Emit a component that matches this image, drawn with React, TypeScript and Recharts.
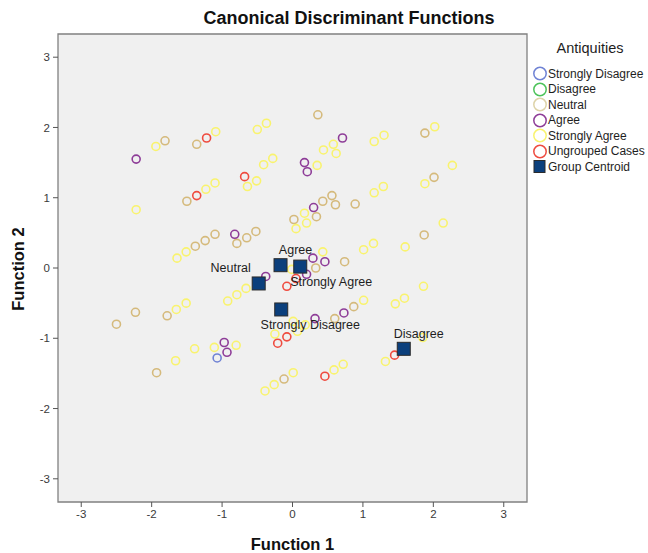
import { ScatterChart, Scatter, XAxis, YAxis, ReferenceArea, Legend } from 'recharts';

// group members, [function 1, function 2]
const stronglyDisagree = [{ x: -1.07, y: -1.28 }];
const disagree: { x: number; y: number }[] = [];
const neutral = [
  { x: -1.81, y: 1.81 }, { x: -1.36, y: 1.76 }, { x: -1.5, y: 0.95 }, { x: -1.1, y: 0.48 },
  { x: -1.24, y: 0.39 }, { x: -1.38, y: 0.31 }, { x: -0.79, y: 0.35 }, { x: -0.65, y: 0.43 },
  { x: -0.52, y: 0.52 }, { x: 0.36, y: 2.18 }, { x: 1.88, y: 1.92 }, { x: 2.01, y: 1.29 },
  { x: 0.56, y: 1.03 }, { x: 0.43, y: 0.95 }, { x: 0.61, y: 0.9 }, { x: 0.89, y: 0.91 },
  { x: 0.34, y: 0.73 }, { x: 0.02, y: 0.69 }, { x: 1.87, y: 0.47 }, { x: 0.74, y: 0.09 },
  { x: 0.33, y: 0.0 }, { x: 0.6, y: -0.72 }, { x: 0.87, y: -0.55 }, { x: -1.78, y: -0.68 },
  { x: -2.23, y: -0.63 }, { x: -2.5, y: -0.8 }, { x: -1.93, y: -1.49 }, { x: -0.12, y: -1.58 },
];
const agree = [
  { x: -2.22, y: 1.55 }, { x: -0.82, y: 0.48 }, { x: 0.71, y: 1.85 }, { x: 0.17, y: 1.5 },
  { x: 0.21, y: 1.37 }, { x: 0.3, y: 0.86 }, { x: 0.29, y: 0.14 }, { x: 0.46, y: 0.09 },
  { x: 0.2, y: -0.09 }, { x: -0.38, y: -0.12 }, { x: 0.73, y: -0.64 }, { x: 0.32, y: -0.72 },
  { x: -0.97, y: -1.06 }, { x: -0.93, y: -1.2 },
];
const stronglyAgree = [
  { x: -1.94, y: 1.73 }, { x: -1.09, y: 1.94 }, { x: -0.5, y: 1.97 }, { x: -0.37, y: 2.06 },
  { x: -0.41, y: 1.47 }, { x: -0.28, y: 1.56 }, { x: -0.64, y: 1.16 }, { x: -0.51, y: 1.24 },
  { x: -1.23, y: 1.12 }, { x: -1.1, y: 1.21 }, { x: -2.22, y: 0.83 }, { x: 0.05, y: 0.56 },
  { x: -1.51, y: 0.23 }, { x: -1.64, y: 0.14 }, { x: 0.58, y: 1.76 }, { x: 0.44, y: 1.68 },
  { x: 0.62, y: 1.63 }, { x: 0.35, y: 1.46 }, { x: 1.16, y: 1.8 }, { x: 1.3, y: 1.89 },
  { x: 2.02, y: 2.01 }, { x: 2.27, y: 1.46 }, { x: 1.88, y: 1.2 }, { x: 1.29, y: 1.16 },
  { x: 1.16, y: 1.07 }, { x: 0.17, y: 0.78 }, { x: 0.2, y: 0.64 }, { x: 2.14, y: 0.64 },
  { x: 1.15, y: 0.35 }, { x: 1.01, y: 0.26 }, { x: 1.6, y: 0.3 }, { x: 0.43, y: 0.23 },
  { x: -0.01, y: -0.02 }, { x: -0.66, y: -0.29 }, { x: -0.79, y: -0.38 }, { x: -0.92, y: -0.47 },
  { x: 1.01, y: -0.46 }, { x: 0.01, y: -0.76 }, { x: 0.18, y: -0.81 }, { x: 0.07, y: -0.9 },
  { x: -0.25, y: -0.94 }, { x: -0.8, y: -1.1 }, { x: -1.11, y: -1.13 }, { x: -1.51, y: -0.5 },
  { x: -1.65, y: -0.59 }, { x: -1.39, y: -1.15 }, { x: -1.66, y: -1.32 }, { x: -0.39, y: -1.75 },
  { x: -0.26, y: -1.66 }, { x: 0.01, y: -1.49 }, { x: 1.86, y: -0.26 }, { x: 1.59, y: -0.43 },
  { x: 1.46, y: -0.51 }, { x: 1.85, y: -0.99 }, { x: 1.32, y: -1.33 }, { x: 0.72, y: -1.37 },
  { x: 0.59, y: -1.45 },
];
const ungrouped = [
  { x: -1.22, y: 1.85 }, { x: -0.68, y: 1.3 }, { x: -1.36, y: 1.03 }, { x: 0.05, y: -0.15 },
  { x: -0.08, y: -0.26 }, { x: -0.08, y: -0.98 }, { x: -0.21, y: -1.07 }, { x: 1.45, y: -1.24 },
  { x: 0.46, y: -1.54 },
];
const centroids = [
  { name: 'Strongly Disagree', x: -0.16, y: -0.59 },
  { name: 'Disagree', x: 1.58, y: -1.15 },
  { name: 'Neutral', x: -0.48, y: -0.22 },
  { name: 'Agree', x: -0.17, y: 0.04 },
  { name: 'Strongly Agree', x: 0.11, y: 0.02 },
];
const ticks = [-3, -2, -1, 0, 1, 2, 3];

const COLORS = {
  sd: '#6f82d4',
  d: '#4cc35a',
  n: '#d5ba7c',
  a: '#8e3d98',
  sa: '#f9f36e',
  u: '#ef4b3f',
  c: '#0b3f7c',
};

// where each centroid label sits relative to its square
const labelOffset: Record<string, [number, number]> = {
  'Strongly Disagree': [29, 16],
  Disagree: [15, -15],
  Neutral: [-28, -15],
  Agree: [15, -15],
  'Strongly Agree': [31, 15],
};

const ring = (color: string) => (p: any) => (
  <circle cx={p.cx} cy={p.cy} r={4} fill="none" stroke={color} strokeWidth={1.6} />
);

const centroidShape = (p: any) => {
  const [dx, dy] = labelOffset[p.payload.name] || [0, -15];
  return (
    <g>
      <rect x={p.cx - 6.5} y={p.cy - 6.5} width={13} height={13} fill={COLORS.c} stroke="#2b2b2b" strokeWidth={1} />
      <text x={p.cx + dx} y={p.cy + dy} textAnchor="middle" dominantBaseline="central" fontSize={12.5} fill="#1e1e1e">
        {p.payload.name}
      </text>
    </g>
  );
};

const legendItems = [
  { label: 'Strongly Disagree', color: COLORS.sd },
  { label: 'Disagree', color: COLORS.d },
  { label: 'Neutral', color: '#ddd3a8' },
  { label: 'Agree', color: COLORS.a },
  { label: 'Strongly Agree', color: COLORS.sa },
  { label: 'Ungrouped Cases', color: COLORS.u },
];

const renderLegend = () => (
  <div style={{ fontFamily: 'Liberation Sans, Arial, sans-serif', color: '#1e1e1e' }}>
    <div style={{ fontSize: 14.5, textAlign: 'center', height: 24, lineHeight: '24px', marginBottom: 6 }}>Antiquities</div>
    {legendItems.map((it) => (
      <div key={it.label} style={{ display: 'flex', alignItems: 'center', height: 15.5, fontSize: 12 }}>
        <svg width={16} height={15}>
          <circle cx={8} cy={7.5} r={6.2} fill="none" stroke={it.color} strokeWidth={1.5} />
        </svg>
        <span>{it.label}</span>
      </div>
    ))}
    <div style={{ display: 'flex', alignItems: 'center', height: 15.5, fontSize: 12 }}>
      <svg width={16} height={15}>
        <rect x={2} y={1.5} width={11} height={12} fill={COLORS.c} stroke="#2b2b2b" strokeWidth={1} />
      </svg>
      <span>Group Centroid</span>
    </div>
  </div>
);

export default function App() {
  return (
    <div
      style={{
        position: 'absolute',
        left: 0,
        top: 0,
        width: 648,
        height: 553,
        background: '#fff',
        fontFamily: 'Liberation Sans, Arial, sans-serif',
      }}
    >
      <div style={{ position: 'absolute', left: 0, width: 698, top: 8, textAlign: 'center', fontSize: 18, fontWeight: 'bold', color: '#111' }}>
        Canonical Discriminant Functions
      </div>
      <div style={{ position: 'absolute', left: 0, width: 585, top: 535, textAlign: 'center', fontSize: 16.5, fontWeight: 'bold', color: '#111' }}>
        Function 1
      </div>
      <div
        style={{
          position: 'absolute',
          left: 18,
          top: 269,
          transform: 'translate(-50%, -50%) rotate(-90deg)',
          fontSize: 16.5,
          fontWeight: 'bold',
          color: '#111',
          whiteSpace: 'nowrap',
        }}
      >
        Function 2
      </div>
      <ScatterChart width={648} height={553} margin={{ top: 34, right: 5, bottom: 21, left: 18 }}>
        <XAxis
          type="number"
          dataKey="x"
          domain={[-3.33, 3.33]}
          ticks={ticks}
          allowDataOverflow
          height={30}
          tickSize={5}
          tickMargin={3}
          axisLine={false}
          stroke="#555"
          tick={{ fontSize: 11.5, fill: '#3a3a3a' }}
        />
        <YAxis
          type="number"
          dataKey="y"
          domain={[-3.33, 3.33]}
          ticks={ticks}
          allowDataOverflow
          width={40}
          tickSize={5}
          tickMargin={3}
          axisLine={false}
          stroke="#555"
          tick={{ fontSize: 11.5, fill: '#3a3a3a' }}
        />
        <ReferenceArea x1={-3.33} x2={3.33} y1={-3.33} y2={3.33} fill="#f0f0f0" fillOpacity={1} stroke="#808080" strokeWidth={1.3} />
        <Legend
          layout="vertical"
          align="right"
          verticalAlign="top"
          content={renderLegend}
          wrapperStyle={{ top: 36, right: 0, width: 116 }}
        />
        <Scatter name="Strongly Disagree" data={stronglyDisagree} shape={ring(COLORS.sd)} isAnimationActive={false} />
        <Scatter name="Disagree" data={disagree} shape={ring(COLORS.d)} isAnimationActive={false} />
        <Scatter name="Neutral" data={neutral} shape={ring(COLORS.n)} isAnimationActive={false} />
        <Scatter name="Agree" data={agree} shape={ring(COLORS.a)} isAnimationActive={false} />
        <Scatter name="Strongly Agree" data={stronglyAgree} shape={ring(COLORS.sa)} isAnimationActive={false} />
        <Scatter name="Ungrouped Cases" data={ungrouped} shape={ring(COLORS.u)} isAnimationActive={false} />
        <Scatter name="Group Centroid" data={centroids} shape={centroidShape} isAnimationActive={false} />
      </ScatterChart>
    </div>
  );
}
